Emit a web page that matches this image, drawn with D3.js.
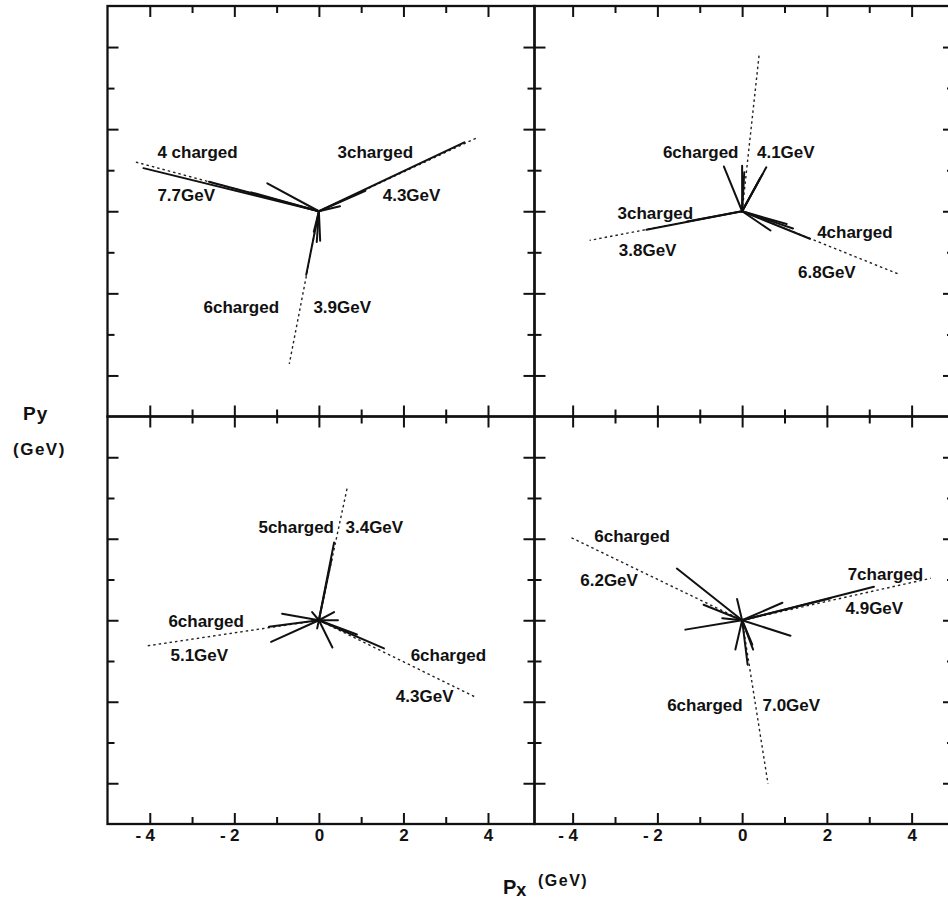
<!DOCTYPE html>
<html><head><meta charset="utf-8">
<script src="https://cdn.jsdelivr.net/npm/d3@7/dist/d3.min.js"></script>
<style>
body{margin:0;background:#fff}
svg{display:block}
text{font-family:"Liberation Sans",Arial,sans-serif;font-weight:bold;fill:#111}
</style>
</head><body>
<svg id="c" width="948" height="904"></svg>
<script>
// ---------- data (GeV) ----------
const majorTicks = [-4, -2, 0, 2, 4];
const minorTicks = [-3, -1, 1, 3];

// charged-track momentum vectors (end points, start at origin)
const tracksA = [[-4.15,1.05],[-2.6,0.72],[-1.6,0.46],[-1.22,0.68],[3.44,1.68],[1.1,0.5],[0.5,0.12],[-0.3,-1.55],[-0.05,-0.75],[0.03,-0.72],[-0.12,-0.5]];
const tracksB = [[-0.43,1.09],[0.0,1.11],[0.05,0.95],[0.57,1.07],[0.42,0.8],[0.48,0.9],[-2.26,-0.45],[-1.3,-0.25],[1.6,-0.67],[1.05,-0.31],[0.67,-0.47],[1.2,-0.42]];
const tracksC = [[0.36,1.91],[0.3,1.5],[-0.87,0.16],[-1.18,-0.16],[-1.13,-0.53],[-0.16,0.2],[0.36,0.2],[0.45,0.0],[0.32,-0.67],[-0.04,-0.2],[1.54,-0.69],[0.9,-0.35]];
const tracksD = [[-1.54,1.27],[-0.91,0.38],[-0.12,0.52],[0.95,0.43],[3.11,0.82],[2.09,0.54],[-1.34,-0.23],[1.14,-0.38],[-0.16,-0.72],[0.13,-1.09],[0.24,-0.6],[0.26,-0.72],[-0.47,0.05]];

// jet axes (dashed)
const jetsA = [[-4.34,1.2],[3.76,1.8],[-0.7,-3.72]];
const jetsB = [[0.4,3.8],[-3.6,-0.71],[3.69,-1.53]];
const jetsC = [[0.67,3.25],[-4.07,-0.63],[3.71,-1.89]];
const jetsD = [[-4.06,2.04],[4.45,1.03],[0.61,-4.01]];

// jet labels: text, anchor (GeV)
const labelsA = [["4 charged",-3.82,1.29],["7.7GeV",-3.82,0.24],["3charged",0.44,1.29],["4.3GeV",1.51,0.24],["6charged",-2.73,-2.47],["3.9GeV",-0.13,-2.47]];
const labelsB = [["6charged",-1.87,1.29],["4.1GeV",0.35,1.29],["3charged",-2.94,-0.18],["3.8GeV",-2.91,-1.08],["4charged",1.77,-0.64],["6.8GeV",1.32,-1.62]];
const labelsC = [["5charged",-1.43,2.15],["3.4GeV",0.63,2.15],["6charged",-3.56,-0.17],["5.1GeV",-3.51,-1.0],["6charged",2.17,-1.0],["4.3GeV",1.82,-2.0]];
const labelsD = [["6charged",-3.49,1.91],["6.2GeV",-3.82,0.84],["7charged",2.49,0.99],["4.9GeV",2.44,0.16],["6charged",-1.77,-2.23],["7.0GeV",0.48,-2.23]];

const xDomainLeft = [-5, 5.1];
const xDomainRight = [-4.9, 5.0];
const yDomain = [-5, 5];

// ---------- layout ----------
const svg = d3.select("#c");
const panels = [
  {tracks:tracksA, jets:jetsA, labels:labelsA, xd:xDomainLeft,  xr:[107.5,534.5], yr:[416.5,6],   bottomLabels:false},
  {tracks:tracksB, jets:jetsB, labels:labelsB, xd:xDomainRight, xr:[534.5,954],   yr:[416.5,6],   bottomLabels:false},
  {tracks:tracksC, jets:jetsC, labels:labelsC, xd:xDomainLeft,  xr:[107.5,534.5], yr:[824,416.5], bottomLabels:true},
  {tracks:tracksD, jets:jetsD, labels:labelsD, xd:xDomainRight, xr:[534.5,954],   yr:[824,416.5], bottomLabels:true}
];

const MAJ = 11, MIN = 7;

panels.forEach(p => {
  const x = d3.scaleLinear().domain(p.xd).range(p.xr);
  const y = d3.scaleLinear().domain(yDomain).range(p.yr);
  const g = svg.append("g");

  // frame
  g.append("rect")
    .attr("x", p.xr[0]).attr("y", p.yr[1])
    .attr("width", p.xr[1]-p.xr[0]).attr("height", p.yr[0]-p.yr[1])
    .attr("fill","none").attr("stroke","#111").attr("stroke-width",2.3);

  function styleAxis(sel){
    sel.select(".domain").remove();
    sel.selectAll(".tick line").attr("stroke","#111").attr("stroke-width",2);
  }
  // x axes (bottom and top), ticks pointing inward
  [[majorTicks,MAJ],[minorTicks,MIN]].forEach(([vals,len],i) => {
    const bot = g.append("g").attr("transform",`translate(0,${p.yr[0]})`)
      .call(d3.axisBottom(x).tickValues(vals).tickSizeInner(-len).tickSizeOuter(0).tickPadding(5)
        .tickFormat(d => (p.bottomLabels && i===0) ? Math.abs(d) : ""));
    styleAxis(bot);
    bot.selectAll(".tick text").attr("font-size",17).attr("fill","#111")
       .style("font-family","'Liberation Sans',Arial,sans-serif").style("font-weight","bold");
    if (p.bottomLabels && i===0) {
      bot.selectAll(".tick").filter(d => d < 0).append("text")
        .attr("x",-12).attr("y",5).attr("dy","0.71em").attr("font-size",17)
        .attr("text-anchor","middle").text("-");
    }
    const top = g.append("g").attr("transform",`translate(0,${p.yr[1]})`)
      .call(d3.axisTop(x).tickValues(vals).tickSizeInner(-len).tickSizeOuter(0).tickFormat(""));
    styleAxis(top);
    const left = g.append("g").attr("transform",`translate(${p.xr[0]},0)`)
      .call(d3.axisLeft(y).tickValues(vals).tickSizeInner(-len).tickSizeOuter(0).tickFormat(""));
    styleAxis(left);
    const right = g.append("g").attr("transform",`translate(${p.xr[1]},0)`)
      .call(d3.axisRight(y).tickValues(vals).tickSizeInner(-len).tickSizeOuter(0).tickFormat(""));
    styleAxis(right);
  });

  const x0 = x(0), y0 = y(0);
  // jet axes
  g.selectAll(".jet").data(p.jets).enter().append("line")
    .attr("x1",x0).attr("y1",y0)
    .attr("x2",d=>x(d[0])).attr("y2",d=>y(d[1]))
    .attr("stroke","#222").attr("stroke-width",1.4).attr("stroke-dasharray","2.5,3");
  // tracks
  g.selectAll(".trk").data(p.tracks).enter().append("line")
    .attr("x1",x0).attr("y1",y0)
    .attr("x2",d=>x(d[0])).attr("y2",d=>y(d[1]))
    .attr("stroke","#111").attr("stroke-width",2).attr("stroke-linecap","round");
  // labels
  g.selectAll(".lab").data(p.labels).enter().append("text")
    .attr("x",d=>x(d[1])).attr("y",d=>y(d[2]))
    .attr("font-size",17).text(d=>d[0]);
});

// axis titles
svg.append("text").attr("x",23).attr("y",420).attr("font-size",19).attr("letter-spacing",1).text("Py");
svg.append("text").attr("x",13).attr("y",455).attr("font-size",17).attr("letter-spacing",1.5).text("(GeV)");
const px = svg.append("text").attr("x",503).attr("y",894).attr("font-size",20);
px.append("tspan").text("P");
px.append("tspan").attr("dy",2).attr("font-size",18).text("x");
svg.append("text").attr("x",538).attr("y",886).attr("font-size",16).attr("letter-spacing",1.5).text("(GeV)");
</script>
</body></html>
